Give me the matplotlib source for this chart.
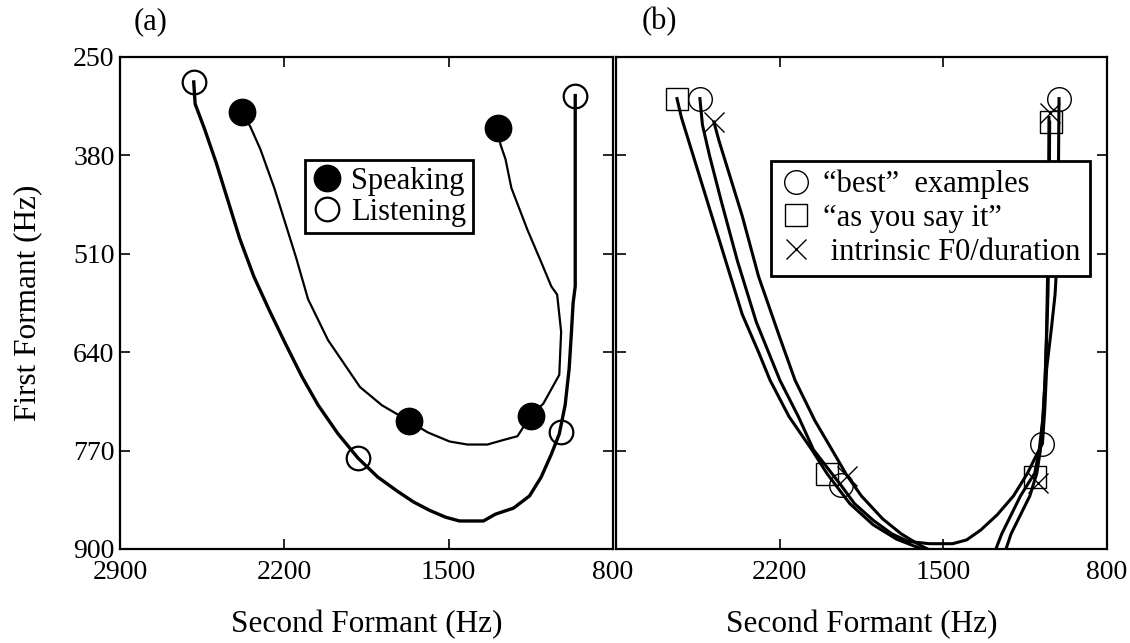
import matplotlib
matplotlib.use("Agg")
import matplotlib.pyplot as plt

plt.rcParams['font.family'] = ['Liberation Serif', 'DejaVu Serif']

# axis setup shared by both panels
F2_TICKS = [2900, 2200, 1500, 800]
F1_TICKS = [250, 380, 510, 640, 770, 900]

# (a) speaking vs listening
speak_f2 = [2382, 1292, 1669, 1151]
speak_f1 = [323, 344, 731, 724]
speak_curve_f2 = [2382, 2345, 2302, 2243, 2150, 2099, 2014, 1878, 1785, 1669, 1589, 1496, 1420,
                  1335, 1267, 1207, 1151, 1097, 1029, 1021, 1038, 1063, 1106, 1165, 1233, 1258,
                  1279, 1292]
speak_curve_f1 = [323, 342, 372, 423, 515, 570, 624, 686, 710, 731, 746, 758, 762,
                  762, 756, 751, 724, 708, 670, 613, 564, 553, 521, 478, 423, 385,
                  366, 344]

listen_f2 = [2586, 961, 1886, 1021]
listen_f1 = [283, 301, 780, 745]
listen_curve_f2 = [2586, 2580, 2540, 2490, 2440, 2390, 2330, 2262, 2195, 2124, 2056, 1971, 1886,
                   1802, 1717, 1649, 1581, 1513, 1454, 1352, 1301, 1224, 1156, 1106, 1063, 1029,
                   1004, 987, 978, 970, 961, 961]
listen_curve_f1 = [283, 312, 345, 390, 440, 490, 540, 586, 629, 673, 710, 748, 780,
                   805, 824, 838, 849, 858, 863, 863, 854, 846, 830, 805, 775, 748,
                   710, 662, 618, 575, 553, 301]

# (b) three listening conditions
best_f2 = [2541, 1005, 1937, 1076]
best_f1 = [305, 305, 816, 761]
best_curve_f2 = [2541, 2530, 2500, 2450, 2380, 2300, 2199, 2120, 2055, 1990, 1937, 1880, 1800,
                 1720, 1650, 1560, 1460, 1400, 1340, 1270, 1200, 1140, 1100, 1076, 1066, 1058,
                 1037, 1022, 1010, 1005]
best_curve_f1 = [305, 340, 380, 440, 520, 600, 677, 725, 769, 795, 816, 840, 862,
                 880, 890, 893, 893, 888, 875, 855, 830, 800, 775, 761, 716, 662,
                 607, 564, 500, 305]

say_f2 = [2639, 1040, 1996, 1109]
say_f1 = [305, 336, 801, 805]
say_curve_f2 = [2639, 2620, 2580, 2520, 2440, 2360, 2290, 2241, 2160, 2062, 1996, 1900, 1800,
                1700, 1600, 1520, None, 1290, 1250, 1210, 1170, 1130, 1109, 1090, 1075, 1065,
                1058, 1052, 1048, 1045]
say_curve_f1 = [305, 330, 370, 430, 510, 590, 640, 677, 725, 769, 801, 840, 868,
                887, 899, 910, None, 912, 880, 855, 830, 810, 800, 770, 730, 680,
                620, 560, 480, 336]

intr_f2 = [2481, 1044, 1912, 1094]
intr_f1 = [336, 324, 803, 813]
intr_curve_f2 = [2481, 2460, 2420, 2360, 2290, 2200, 2134, 2050, 1976, 1912, 1850, 1760, 1680,
                 1600, 1500, None, 1245, 1210, 1170, 1130, 1100, 1085, 1072, 1064, 1058,
                 1054, 1050, 1048]
intr_curve_f1 = [336, 360, 400, 460, 540, 620, 677, 730, 769, 803, 830, 860, 880,
                 895, 910, None, 912, 880, 855, 830, 800, 770, 720, 670, 610,
                 540, 460, 330]


def style_axes(ax, show_y_labels=True, x_labels=None):
    ax.set_xlim(2900, 800)
    ax.set_ylim(900, 250)
    ax.set_xticks(F2_TICKS)
    ax.set_yticks(F1_TICKS)
    if x_labels is not None:
        ax.set_xticklabels(x_labels)
    ax.tick_params(direction="in", length=7, width=1.2, top=True, right=True,
                   labelsize=20, color="black")
    ax.tick_params(axis="x", pad=8)
    ax.tick_params(axis="y", pad=4, labelleft=show_y_labels)
    for sp in ax.spines.values():
        sp.set_linewidth(1.6)
    ax.set_xlabel("Second Formant (Hz)", fontsize=22.5, labelpad=18)


def nones_split(xs, ys):
    segs = []
    cur_x, cur_y = [], []
    for x, y in zip(xs, ys):
        if x is None:
            segs.append((cur_x, cur_y))
            cur_x, cur_y = [], []
        else:
            cur_x.append(x)
            cur_y.append(y)
    segs.append((cur_x, cur_y))
    return segs


def box_legend(ax, anchor, textpad, spacing, pad):
    leg = ax.legend(loc="upper left", bbox_to_anchor=anchor, borderaxespad=0,
                    fontsize=22, frameon=True, fancybox=False, borderpad=pad,
                    labelspacing=spacing, handletextpad=textpad, handlelength=1.0)
    leg.get_frame().set_edgecolor("black")
    leg.get_frame().set_linewidth(2)
    leg.get_frame().set_alpha(1)
    return leg


fig = plt.figure(figsize=(11.3, 6.43), dpi=100)
ax_a = fig.add_axes([0.1062, 0.1462, 0.4363, 0.7652])
ax_b = fig.add_axes([0.5451, 0.1462, 0.4345, 0.7652])

# panel (a)
ax_a.plot(speak_curve_f2, speak_curve_f1, color="black", lw=1.6)
ax_a.plot(listen_curve_f2, listen_curve_f1, color="black", lw=2.4)
ax_a.plot(speak_f2, speak_f1, "o", ms=19, color="black", label="Speaking")
ax_a.plot(listen_f2, listen_f1, "o", ms=17, mfc="none", mec="black", mew=1.6, label="Listening")
style_axes(ax_a)
ax_a.set_ylabel("First Formant (Hz)", fontsize=22.5, labelpad=22)
box_legend(ax_a, (0.375, 0.79), 0.3, 0.05, 0.22)

# panel (b)
for xs, ys in [(best_curve_f2, best_curve_f1), (say_curve_f2, say_curve_f1),
               (intr_curve_f2, intr_curve_f1)]:
    for sx, sy in nones_split(xs, ys):
        ax_b.plot(sx, sy, color="black", lw=2.2)
ax_b.plot(best_f2, best_f1, "o", ms=17, mfc="none", mec="black", mew=1.0,
          label="\u201cbest\u201d  examples")
ax_b.plot(say_f2, say_f1, "s", ms=16, mfc="none", mec="black", mew=1.0,
          label="\u201cas you say it\u201d")
ax_b.plot(intr_f2, intr_f1, "x", ms=15, mec="black", mew=1.0,
          label=" intrinsic F0/duration")
style_axes(ax_b, show_y_labels=False, x_labels=["", "2200", "1500", "800"])
box_legend(ax_b, (0.316, 0.789), 0.4, 0.15, 0.3)

fig.text(151 / 1130, 1 - 22 / 643, "(a)", fontsize=22, ha="center", va="center")
fig.text(659 / 1130, 1 - 22 / 643, "(b)", fontsize=22, ha="center", va="center")

fig.savefig("out.png", dpi=100)
